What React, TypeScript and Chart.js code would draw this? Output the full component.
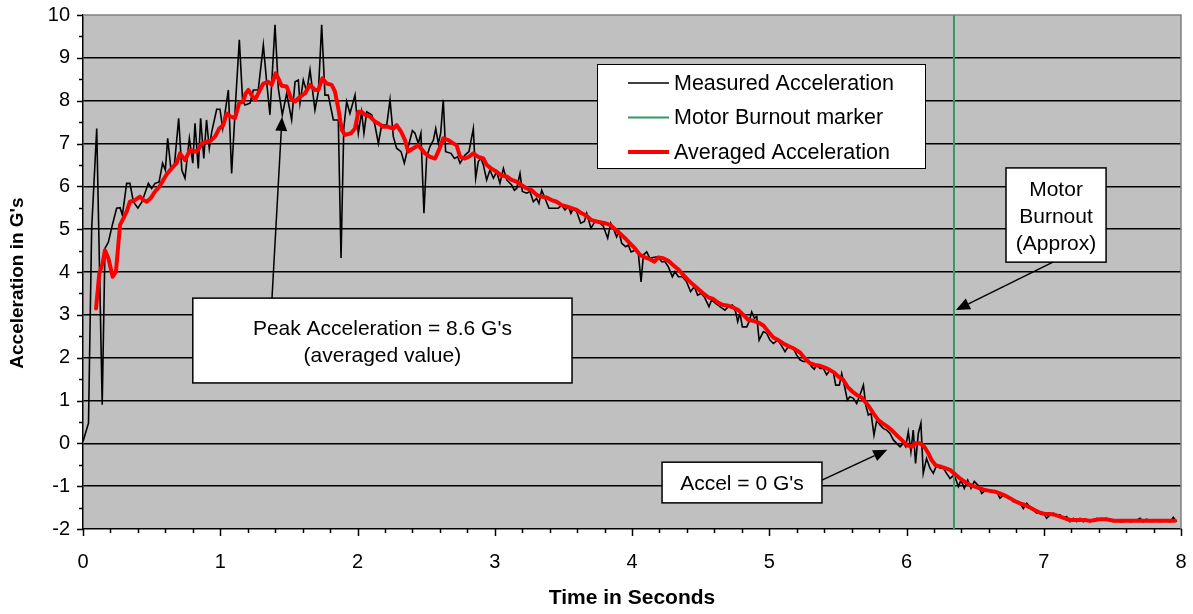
import React, { useEffect, useRef } from "react";
import { Chart, registerables } from "chart.js";

Chart.register(...registerables);

// ---------------- data ----------------
const measuredTime = [
  0.0, 0.04, 0.063, 0.1, 0.14, 0.16, 0.185, 0.214, 0.245, 0.27, 0.287, 0.318, 0.342, 0.367, 0.4, 0.43, 0.476, 0.5, 0.525, 0.554,
  0.58, 0.6, 0.617, 0.64, 0.665, 0.697, 0.72, 0.743, 0.775, 0.8, 0.816, 0.84, 0.857, 0.88, 0.9, 0.92, 0.938, 0.974, 0.998, 1.018,
  1.059, 1.083, 1.112, 1.139, 1.163, 1.18, 1.217, 1.241, 1.277, 1.314, 1.338, 1.362, 1.399, 1.423, 1.452, 1.484, 1.52, 1.545, 1.569, 1.581,
  1.605, 1.63, 1.654, 1.69, 1.715, 1.739, 1.763, 1.787, 1.824, 1.86, 1.88, 1.9, 1.921, 1.945, 1.982, 2.006, 2.03, 2.047, 2.067, 2.103,
  2.127, 2.152, 2.176, 2.213, 2.237, 2.261, 2.285, 2.317, 2.341, 2.37, 2.4, 2.419, 2.443, 2.462, 2.484, 2.504, 2.528, 2.553, 2.57, 2.589,
  2.606, 2.625, 2.642, 2.681, 2.706, 2.73, 2.747, 2.783, 2.812, 2.844, 2.861, 2.88, 2.9, 2.917, 2.941, 2.965, 2.99, 3.014, 3.038, 3.063,
  3.087, 3.123, 3.143, 3.16, 3.184, 3.201, 3.233, 3.257, 3.281, 3.305, 3.322, 3.342, 3.371, 3.395, 3.419, 3.463, 3.488, 3.512, 3.536, 3.555,
  3.572, 3.597, 3.626, 3.653, 3.67, 3.701, 3.73, 3.767, 3.791, 3.823, 3.845, 3.864, 3.888, 3.905, 3.925, 3.954, 3.973, 3.993, 4.022, 4.046,
  4.066, 4.083, 4.107, 4.131, 4.155, 4.187, 4.216, 4.241, 4.265, 4.294, 4.313, 4.338, 4.367, 4.398, 4.427, 4.454, 4.478, 4.503, 4.527, 4.561,
  4.58, 4.609, 4.641, 4.677, 4.702, 4.731, 4.755, 4.77, 4.787, 4.804, 4.836, 4.853, 4.872, 4.892, 4.909, 4.926, 4.957, 4.981, 5.005, 5.03,
  5.061, 5.086, 5.115, 5.139, 5.175, 5.2, 5.224, 5.248, 5.285, 5.309, 5.328, 5.345, 5.37, 5.394, 5.418, 5.443, 5.467, 5.484, 5.511, 5.528,
  5.552, 5.569, 5.588, 5.613, 5.637, 5.661, 5.686, 5.703, 5.722, 5.742, 5.763, 5.783, 5.807, 5.831, 5.855, 5.88, 5.904, 5.928, 5.953, 5.977,
  5.994, 6.013, 6.032, 6.049, 6.066, 6.086, 6.105, 6.122, 6.146, 6.171, 6.195, 6.22, 6.244, 6.268, 6.292, 6.317, 6.346, 6.365, 6.378, 6.397,
  6.421, 6.446, 6.47, 6.494, 6.519, 6.548, 6.577, 6.609, 6.633, 6.657, 6.681, 6.706, 6.73, 6.754, 6.778, 6.803, 6.827, 6.851, 6.876, 6.9,
  6.924, 6.948, 6.973, 6.997, 7.021, 7.046, 7.07, 7.094, 7.119, 7.143, 7.167, 7.191, 7.216, 7.24, 7.264, 7.289, 7.313, 7.337, 7.362, 7.386,
  7.41, 7.435, 7.459, 7.483, 7.508, 7.532, 7.556, 7.58, 7.605, 7.629, 7.665, 7.702, 7.726, 7.75, 7.787, 7.81, 7.847, 7.883, 7.92, 7.944,
  7.968,
];
const measuredAccel = [
  0.04, 0.47, 5.0, 7.35, 0.9, 4.55, 4.7, 5.1, 5.49, 5.5, 5.33, 6.07, 6.07, 5.64, 5.49, 5.64, 6.07, 5.95, 6.07, 6.1,
  6.54, 6.38, 7.12, 6.42, 6.46, 7.59, 6.38, 6.19, 7.12, 6.54, 7.47, 6.42, 7.59, 6.65, 7.55, 6.89, 7.27, 7.8, 7.8, 7.35,
  8.25, 6.3, 7.98, 9.42, 8.0, 7.9, 7.94, 8.25, 8.25, 9.3, 8.44, 7.67, 9.77, 8.29, 7.67, 8.17, 7.55, 8.44, 8.48, 7.94,
  8.48, 8.21, 8.72, 7.78, 8.21, 9.77, 8.13, 8.13, 7.55, 7.55, 4.33, 7.35, 7.98, 7.7, 8.13, 7.24, 7.74, 7.24, 7.74, 7.67,
  7.43, 7.0, 7.43, 7.43, 8.02, 7.16, 6.89, 6.81, 6.54, 6.93, 7.3, 7.24, 7.0, 7.24, 5.37, 6.69, 6.93, 7.08, 7.35, 7.0,
  7.24, 8.02, 6.81, 6.77, 6.65, 6.69, 6.54, 6.73, 6.81, 7.35, 6.19, 6.58, 6.65, 6.5, 6.15, 6.38, 6.19, 6.34, 6.07, 6.42,
  6.15, 6.03, 5.91, 5.95, 6.3, 5.88, 5.84, 5.88, 5.64, 5.72, 5.6, 5.91, 5.68, 5.49, 5.49, 5.49, 5.56, 5.45, 5.53, 5.37,
  5.49, 5.41, 5.14, 5.18, 5.37, 5.02, 5.18, 5.14, 5.07, 4.79, 5.14, 5.02, 4.82, 4.94, 4.67, 4.59, 4.63, 4.47, 4.51, 4.44,
  3.77, 4.4, 4.47, 4.32, 4.34, 4.36, 4.24, 4.24, 4.12, 3.89, 4.01, 3.89, 3.89, 3.77, 3.54, 3.66, 3.46, 3.5, 3.42, 3.19,
  3.35, 3.27, 3.19, 3.11, 3.19, 3.23, 3.07, 2.84, 3.04, 2.72, 2.72, 2.84, 3.07, 2.92, 2.96, 2.41, 2.61, 2.57, 2.41, 2.33,
  2.41, 2.3, 2.14, 2.26, 2.22, 2.06, 1.95, 1.91, 1.91, 1.79, 1.73, 1.83, 1.75, 1.75, 1.6, 1.71, 1.67, 1.36, 1.36, 1.63,
  1.28, 1.01, 1.09, 1.05, 0.93, 1.13, 1.36, 0.89, 0.66, 0.7, 0.19, 0.54, 0.43, 0.35, 0.31, 0.23, 0.08, 0.0, -0.08, 0.0,
  -0.08, 0.27, -0.19, 0.31, -0.47, 0.23, 0.47, -0.7, -0.35, -0.58, -0.7, -0.51, -0.58, -0.58, -0.7, -0.82, -0.74, -0.89, -1.01, -0.86,
  -1.05, -0.86, -1.05, -0.89, -0.97, -1.17, -1.09, -1.09, -1.13, -1.13, -1.28, -1.21, -1.25, -1.28, -1.36, -1.36, -1.4, -1.52, -1.4, -1.48,
  -1.56, -1.63, -1.6, -1.63, -1.75, -1.67, -1.63, -1.67, -1.67, -1.75, -1.71, -1.83, -1.75, -1.83, -1.75, -1.83, -1.79, -1.83, -1.79, -1.75,
  -1.79, -1.77, -1.75, -1.81, -1.83, -1.79, -1.83, -1.83, -1.79, -1.83, -1.81, -1.75, -1.83, -1.77, -1.83, -1.79, -1.83, -1.79, -1.83, -1.73,
  -1.83,
];

const averagedTime = [
  0.095, 0.119, 0.143, 0.16, 0.185, 0.216, 0.24, 0.27, 0.294, 0.318, 0.342, 0.379, 0.415, 0.44, 0.464, 0.493, 0.525, 0.556, 0.585, 0.614,
  0.646, 0.682, 0.707, 0.743, 0.78, 0.816, 0.84, 0.865, 0.896, 0.93, 0.962, 0.993, 1.022, 1.047, 1.076, 1.107, 1.139, 1.168, 1.185, 1.205,
  1.229, 1.253, 1.29, 1.314, 1.35, 1.375, 1.404, 1.423, 1.447, 1.484, 1.52, 1.545, 1.581, 1.617, 1.654, 1.69, 1.715, 1.744, 1.775, 1.812,
  1.836, 1.86, 1.885, 1.909, 1.953, 1.982, 2.006, 2.03, 2.055, 2.091, 2.127, 2.152, 2.188, 2.224, 2.261, 2.285, 2.317, 2.346, 2.37, 2.407,
  2.443, 2.492, 2.528, 2.565, 2.594, 2.625, 2.662, 2.698, 2.722, 2.747, 2.783, 2.812, 2.844, 2.88, 2.917, 2.941, 2.973, 3.014, 3.045, 3.087,
  3.123, 3.159, 3.196, 3.233, 3.269, 3.305, 3.337, 3.378, 3.414, 3.451, 3.488, 3.523, 3.56, 3.597, 3.633, 3.67, 3.706, 3.743, 3.803, 3.84,
  3.876, 3.912, 3.949, 3.985, 4.022, 4.058, 4.094, 4.131, 4.163, 4.192, 4.228, 4.265, 4.301, 4.338, 4.374, 4.41, 4.447, 4.483, 4.519, 4.556,
  4.592, 4.629, 4.665, 4.702, 4.738, 4.775, 4.811, 4.848, 4.884, 4.921, 4.957, 4.993, 5.03, 5.066, 5.103, 5.139, 5.175, 5.224, 5.26, 5.297,
  5.333, 5.37, 5.406, 5.443, 5.474, 5.503, 5.54, 5.571, 5.605, 5.637, 5.674, 5.698, 5.727, 5.759, 5.795, 5.824, 5.856, 5.892, 5.928, 5.965,
  6.001, 6.038, 6.067, 6.098, 6.13, 6.159, 6.183, 6.212, 6.244, 6.281, 6.317, 6.354, 6.39, 6.426, 6.463, 6.499, 6.536, 6.572, 6.608, 6.645,
  6.681, 6.718, 6.754, 6.79, 6.827, 6.863, 6.9, 6.936, 6.973, 7.009, 7.046, 7.082, 7.119, 7.155, 7.191, 7.228, 7.264, 7.301, 7.337, 7.374,
  7.41, 7.447, 7.483, 7.52, 7.568, 7.617, 7.665, 7.714, 7.762, 7.81, 7.859, 7.908, 7.956,
];
const averagedAccel = [
  3.15, 3.97, 4.2, 4.51, 4.32, 3.89, 4.01, 5.1, 5.25, 5.41, 5.64, 5.68, 5.76, 5.68, 5.64, 5.72, 5.88, 5.99, 6.15, 6.3,
  6.42, 6.54, 6.77, 6.61, 6.85, 6.81, 6.85, 7.0, 7.04, 7.06, 7.16, 7.35, 7.43, 7.7, 7.63, 7.59, 7.95, 7.98, 8.17, 8.25,
  8.13, 8.02, 8.25, 8.4, 8.44, 8.37, 8.64, 8.52, 8.35, 8.33, 8.02, 7.98, 8.09, 8.17, 8.37, 8.25, 8.25, 8.52, 8.4, 8.37,
  8.21, 7.82, 7.32, 7.2, 7.24, 7.35, 7.74, 7.74, 7.67, 7.63, 7.51, 7.47, 7.39, 7.39, 7.35, 7.43, 7.28, 7.08, 6.81, 6.89,
  6.96, 6.77, 6.69, 6.65, 6.85, 7.12, 7.08, 7.0, 6.96, 6.69, 6.65, 6.69, 6.77, 6.69, 6.65, 6.5, 6.42, 6.34, 6.26, 6.23,
  6.15, 6.11, 6.03, 5.95, 5.91, 5.8, 5.76, 5.74, 5.68, 5.64, 5.56, 5.53, 5.49, 5.45, 5.37, 5.31, 5.21, 5.18, 5.14, 5.1,
  5.0, 4.9, 4.79, 4.67, 4.55, 4.4, 4.34, 4.3, 4.24, 4.34, 4.32, 4.26, 4.16, 4.06, 3.93, 3.81, 3.7, 3.6, 3.5, 3.41,
  3.37, 3.28, 3.23, 3.21, 3.17, 3.11, 3.0, 2.88, 2.86, 2.82, 2.75, 2.61, 2.47, 2.41, 2.33, 2.27, 2.22, 2.12, 1.98, 1.87,
  1.83, 1.81, 1.77, 1.71, 1.65, 1.56, 1.48, 1.32, 1.21, 1.13, 1.07, 0.97, 0.86, 0.7, 0.54, 0.47, 0.4, 0.31, 0.19, 0.08,
  -0.04, -0.08, 0.0, 0.0, -0.08, -0.23, -0.39, -0.51, -0.54, -0.58, -0.62, -0.72, -0.82, -0.9, -0.97, -1.01, -1.05, -1.09, -1.11, -1.13,
  -1.17, -1.22, -1.28, -1.35, -1.4, -1.44, -1.5, -1.56, -1.62, -1.65, -1.65, -1.67, -1.71, -1.75, -1.79, -1.79, -1.79, -1.79, -1.81, -1.79,
  -1.77, -1.77, -1.79, -1.81, -1.81, -1.81, -1.81, -1.81, -1.81, -1.81, -1.81, -1.81, -1.81,
];

const burnoutTime = 6.346;

const X_MIN = 0;
const X_MAX = 8;
const Y_MIN = -2;
const Y_MAX = 10;
const X_MINOR = 0.2;
const Y_MINOR = 0.5;

const xTitle = "Time in Seconds";
const yTitle = "Acceleration in G's";

const seriesLabels = ["Measured Acceleration", "Motor Burnout marker", "Averaged Acceleration"];
const seriesColors = ["#000000", "#339966", "#FF0000"];
const seriesWidths = [1.6, 2, 4];

// annotation boxes (data coordinates)
const notes = [
  { lines: ["Peak Acceleration = 8.6 G's", "(averaged value)"], box: [0.8, 3.39, 3.563, 1.41], from: [1.377, 3.39], to: [1.45, 7.62] },
  { lines: ["Accel = 0 G's"], box: [4.219, -0.44, 5.384, -1.39], from: [5.384, -0.86], to: [5.86, -0.15] },
  { lines: ["Motor", "Burnout", "(Approx)"], box: [6.725, 6.43, 7.454, 4.23], from: [7.067, 4.23], to: [6.36, 3.11] },
];

const FONT = "'Liberation Sans', Arial, Helvetica, sans-serif";
const TEXT_SIZE = 21;

function drawArrow(ctx: CanvasRenderingContext2D, x1: number, y1: number, x2: number, y2: number) {
  const ang = Math.atan2(y2 - y1, x2 - x1);
  const len = 14;
  const half = 6;
  const bx = x2 - len * Math.cos(ang);
  const by = y2 - len * Math.sin(ang);
  ctx.beginPath();
  ctx.moveTo(x1, y1);
  ctx.lineTo(bx, by);
  ctx.stroke();
  ctx.beginPath();
  ctx.moveTo(x2, y2);
  ctx.lineTo(bx + half * Math.sin(ang), by - half * Math.cos(ang));
  ctx.lineTo(bx - half * Math.sin(ang), by + half * Math.cos(ang));
  ctx.closePath();
  ctx.fill();
}

const decorPlugin = {
  id: "decor",
  beforeDraw(chart: any) {
    const { ctx, chartArea: a } = chart;
    ctx.save();
    ctx.fillStyle = "#FFFFFF";
    ctx.fillRect(0, 0, chart.width, chart.height);
    ctx.fillStyle = "#C0C0C0";
    ctx.fillRect(a.left, a.top, a.right - a.left, a.bottom - a.top);
    ctx.restore();
  },
  afterDraw(chart: any) {
    const { ctx, chartArea: a } = chart;
    const xs = chart.scales.x;
    const ys = chart.scales.y;
    ctx.save();
    // top & right border
    ctx.strokeStyle = "#808080";
    ctx.lineWidth = 1.5;
    ctx.beginPath();
    ctx.moveTo(a.left, a.top);
    ctx.lineTo(a.right, a.top);
    ctx.lineTo(a.right, a.bottom);
    ctx.stroke();

    // tick marks
    ctx.strokeStyle = "#000";
    ctx.lineWidth = 1.5;
    const nx = Math.round((X_MAX - X_MIN) / X_MINOR);
    for (let i = 0; i <= nx; i++) {
      const v = X_MIN + i * X_MINOR;
      const px = Math.round(xs.getPixelForValue(v)) + 0.5;
      const major = i % 5 === 0;
      ctx.beginPath();
      ctx.moveTo(px, a.bottom);
      ctx.lineTo(px, a.bottom + (major ? 7 : 4));
      ctx.stroke();
    }
    const ny = Math.round((Y_MAX - Y_MIN) / Y_MINOR);
    for (let i = 0; i <= ny; i++) {
      const v = Y_MIN + i * Y_MINOR;
      const py = Math.round(ys.getPixelForValue(v)) + 0.5;
      const major = i % 2 === 0;
      ctx.beginPath();
      ctx.moveTo(a.left, py);
      ctx.lineTo(a.left - (major ? 6 : 4), py);
      ctx.stroke();
    }

    // axis titles
    ctx.fillStyle = "#000";
    ctx.textAlign = "center";
    ctx.textBaseline = "middle";
    ctx.font = `bold 21px ${FONT}`;
    ctx.fillText(xTitle, (a.left + a.right) / 2, 598);
    ctx.save();
    ctx.translate(18, (a.top + a.bottom) / 2 + 11);
    ctx.rotate(-Math.PI / 2);
    ctx.font = `bold 19px ${FONT}`;
    ctx.fillText(yTitle, 0, 0);
    ctx.restore();

    // annotations
    ctx.font = `${TEXT_SIZE}px ${FONT}`;
    ctx.textAlign = "center";
    ctx.textBaseline = "middle";
    for (const n of notes) {
      const x1 = xs.getPixelForValue(n.box[0]);
      const y1 = ys.getPixelForValue(n.box[1]);
      const x2 = xs.getPixelForValue(n.box[2]);
      const y2 = ys.getPixelForValue(n.box[3]);
      ctx.fillStyle = "#FFFFFF";
      ctx.fillRect(x1, y1, x2 - x1, y2 - y1);
      ctx.strokeStyle = "#000";
      ctx.lineWidth = 1.5;
      ctx.strokeRect(x1, y1, x2 - x1, y2 - y1);
      ctx.fillStyle = "#000";
      const lh = 27;
      const cy = (y1 + y2) / 2 + 2;
      const cx = (x1 + x2) / 2;
      n.lines.forEach((t, i) => {
        ctx.fillText(t, cx, cy + (i - (n.lines.length - 1) / 2) * lh);
      });
      ctx.lineWidth = 1.5;
      drawArrow(
        ctx,
        xs.getPixelForValue(n.from[0]),
        ys.getPixelForValue(n.from[1]),
        xs.getPixelForValue(n.to[0]),
        ys.getPixelForValue(n.to[1])
      );
    }

    // legend
    const lx = a.left + 514;
    const ly = a.top + 49;
    const lw = 328;
    const lhh = 104;
    ctx.fillStyle = "#FFFFFF";
    ctx.fillRect(lx, ly, lw, lhh);
    ctx.strokeStyle = "#000";
    ctx.lineWidth = 1;
    ctx.strokeRect(lx + 0.5, ly + 0.5, lw, lhh);
    ctx.textAlign = "left";
    ctx.textBaseline = "middle";
    ctx.font = `21.5px ${FONT}`;
    seriesLabels.forEach((lab, i) => {
      const ry = ly + 19 + i * 34.5;
      ctx.strokeStyle = seriesColors[i];
      ctx.lineWidth = seriesWidths[i];
      ctx.beginPath();
      ctx.moveTo(lx + 31, ry);
      ctx.lineTo(lx + 72, ry);
      ctx.stroke();
      ctx.fillStyle = "#000";
      ctx.fillText(lab, lx + 77, ry + 1);
    });
    ctx.restore();
  },
};

export default function App() {
  const canvasRef = useRef<HTMLCanvasElement | null>(null);

  useEffect(() => {
    const canvas = canvasRef.current;
    if (!canvas) return;
    const measured = measuredTime.map((t, i) => ({ x: t, y: measuredAccel[i] }));
    const averaged = averagedTime.map((t, i) => ({ x: t, y: averagedAccel[i] }));
    const burnout = [
      { x: burnoutTime, y: Y_MIN },
      { x: burnoutTime, y: Y_MAX },
    ];
    const chart = new Chart(canvas, {
      type: "line",
      data: {
        datasets: [
          {
            label: seriesLabels[0],
            data: measured,
            borderColor: seriesColors[0],
            borderWidth: seriesWidths[0],
            pointRadius: 0,
            tension: 0,
            fill: false,
            order: 2,
          },
          {
            label: seriesLabels[1],
            data: burnout,
            borderColor: seriesColors[1],
            borderWidth: seriesWidths[1],
            pointRadius: 0,
            fill: false,
            order: 1,
          },
          {
            label: seriesLabels[2],
            data: averaged,
            borderColor: seriesColors[2],
            borderWidth: seriesWidths[2],
            pointRadius: 0,
            tension: 0,
            fill: false,
            borderJoinStyle: "round",
            borderCapStyle: "round",
            order: 0,
          },
        ],
      },
      options: {
        animation: false,
        responsive: false,
        maintainAspectRatio: false,
        layout: { padding: { top: 15, right: 12, left: 0, bottom: 0 } },
        plugins: {
          legend: { display: false },
          tooltip: { enabled: false },
          title: { display: false },
        },
        scales: {
          x: {
            type: "linear",
            min: X_MIN,
            max: X_MAX,
            ticks: {
              stepSize: 1,
              color: "#000",
              font: { family: FONT, size: 20 },
              padding: 21,
              maxRotation: 0,
              autoSkip: false,
            },
            grid: { display: false, drawTicks: false },
            border: { display: true, color: "#000", width: 1.5 },
            title: { display: false },
            afterFit: (s: any) => {
              s.height = 85;
              s.paddingLeft = 0;
              s.paddingRight = 0;
            },
          },
          y: {
            type: "linear",
            min: Y_MIN,
            max: Y_MAX,
            ticks: {
              stepSize: 1,
              color: "#000",
              font: { family: FONT, size: 20 },
              padding: 13,
              autoSkip: false,
            },
            grid: {
              drawTicks: false,
              lineWidth: 1.5,
              color: (ctx: any) =>
                ctx.tick && (ctx.tick.value === Y_MAX || ctx.tick.value === Y_MIN) ? "rgba(0,0,0,0)" : "#000",
            },
            border: { display: true, color: "#000", width: 1.5 },
            title: { display: false },
            afterFit: (s: any) => {
              s.width = 83;
              s.paddingTop = 0;
              s.paddingBottom = 0;
            },
          },
        },
      },
      plugins: [decorPlugin],
    } as any);
    return () => chart.destroy();
  }, []);

  return (
    <div style={{ position: "fixed", left: 0, top: 0, width: 1193, height: 614, background: "#fff" }}>
      <canvas ref={canvasRef} width={1193} height={614} style={{ width: 1193, height: 614, display: "block" }} />
    </div>
  );
}
